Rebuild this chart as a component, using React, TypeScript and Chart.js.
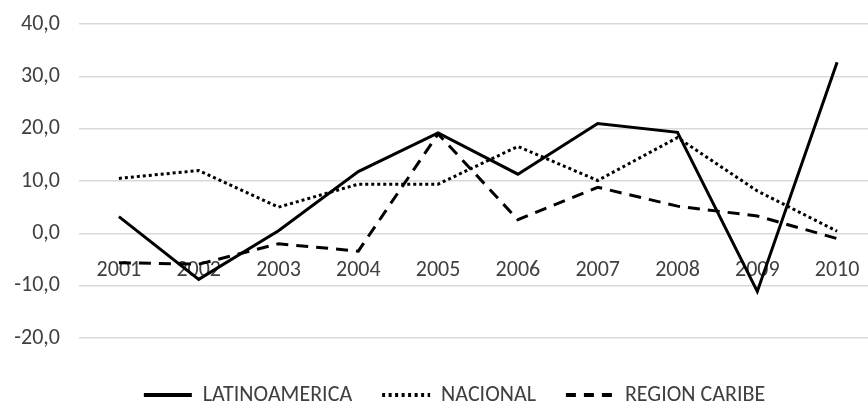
import React, { useEffect, useRef } from "react";
import { Chart, registerables } from "chart.js";

Chart.register(...registerables);

const years = ["2001", "2002", "2003", "2004", "2005", "2006", "2007", "2008", "2009", "2010"];
const latinoamerica = [3.2, -8.8, 0.5, 11.8, 19.2, 11.3, 21.0, 19.3, -11.1, 32.7];
const nacional = [10.5, 12.0, 5.0, 9.4, 9.4, 16.6, 10.1, 18.3, 8.1, 0.4];
const regionCaribe = [-5.6, -5.9, -2.0, -3.4, 19.0, 2.6, 8.8, 5.2, 3.3, -1.0];
const seriesLabels = ["LATINOAMERICA", "NACIONAL", "REGION CARIBE"];
const yMin = -20;
const yMax = 40;
const yStep = 10;

const FONT = "Carlito, 'Liberation Sans', sans-serif";
const TEXT = "#404040";

const legendShift = {
  id: "legendShift",
  afterLayout(chart: any) {
    const l = chart.legend;
    if (l) {
      l.left += 9;
      l.right += 9;
    }
  },
};

const noPad = (s: any) => {
  s.paddingLeft = 0;
  s.paddingRight = 0;
  s.paddingTop = 0;
  s.paddingBottom = 0;
};

export default function App() {
  const ref = useRef<HTMLCanvasElement | null>(null);

  useEffect(() => {
    document.body.style.margin = "0";
    document.body.style.overflow = "hidden";
    const dashes = [[], [3, 3], [12, 8]];
    const legendDashes = [[], [3, 3.5], [10, 8]];
    const chart = new Chart(ref.current as HTMLCanvasElement, {
      type: "line",
      plugins: [legendShift],
      data: {
        labels: years,
        datasets: [latinoamerica, nacional, regionCaribe].map((d, i) => ({
          label: seriesLabels[i],
          data: d,
          borderColor: "#000000",
          backgroundColor: "#000000",
          borderWidth: 3,
          borderDash: dashes[i],
          pointRadius: 0,
          tension: 0,
          fill: false,
        })),
      },
      options: {
        responsive: false,
        animation: false,
        layout: { padding: { left: 14, right: 23, top: 24, bottom: 0 } },
        plugins: {
          tooltip: { enabled: false },
          legend: {
            position: "bottom",
            title: { display: true, text: "", font: { size: 1 }, padding: 7.4 },
            labels: {
              usePointStyle: true,
              pointStyle: "line",
              pointStyleWidth: 48,
              padding: 30,
              color: TEXT,
              font: { family: FONT, size: 22 },
              generateLabels: (c: any) =>
                c.data.datasets.map((ds: any, i: number) => ({
                  text: ds.label,
                  fillStyle: "#000",
                  strokeStyle: "#000",
                  lineWidth: 4,
                  lineDash: legendDashes[i],
                  lineCap: "butt",
                  pointStyle: "line",
                  hidden: false,
                  datasetIndex: i,
                  fontColor: TEXT,
                })),
            },
          },
        },
        scales: {
          x: {
            type: "category",
            position: { y: 0 } as any,
            offset: true,
            afterFit: noPad,
            grid: { display: false, drawTicks: false },
            border: { display: false },
            ticks: {
              color: TEXT,
              font: { family: FONT, size: 22 },
              padding: 24,
              maxRotation: 0,
              autoSkip: false,
            },
          },
          y: {
            min: yMin,
            max: yMax,
            afterFit: (s: any) => {
              noPad(s);
              s.width = 65;
            },
            grid: { color: "#d9d9d9", lineWidth: 1.5, drawTicks: false },
            border: { display: false },
            ticks: {
              stepSize: yStep,
              padding: 19,
              color: TEXT,
              font: { family: FONT, size: 22 },
              callback: (v: any) => Number(v).toFixed(1).replace(".", ","),
            },
          },
        },
      },
    });
    return () => chart.destroy();
  }, []);

  return <canvas ref={ref} width={900} height={416} style={{ display: "block" }} />;
}
